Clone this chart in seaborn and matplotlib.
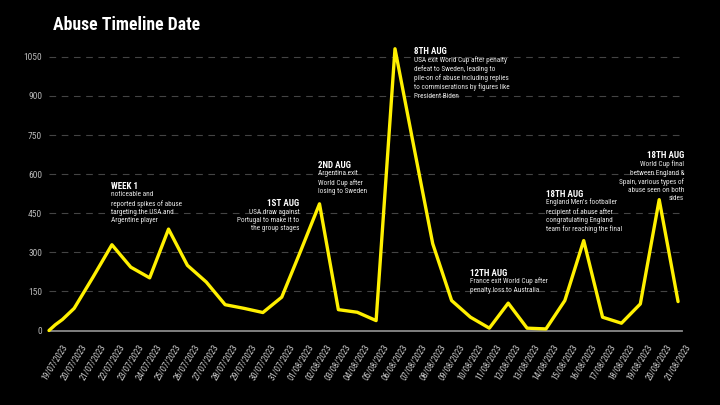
import matplotlib
matplotlib.use("Agg")
import matplotlib.pyplot as plt
import seaborn as sns
import pandas as pd
import numpy as np

# ---- data ----
timestamps = [
    "2023-07-18 16:00", "2023-07-19 00:00", "2023-07-19 09:00", "2023-07-20 00:00", "2023-07-21 00:00",
    "2023-07-22 00:00", "2023-07-23 00:00", "2023-07-24 00:00", "2023-07-25 00:00", "2023-07-26 00:00",
    "2023-07-27 00:00", "2023-07-28 00:00", "2023-07-29 00:00", "2023-07-30 00:00", "2023-07-31 00:00",
    "2023-08-01 00:00", "2023-08-02 00:00", "2023-08-03 00:00", "2023-08-04 00:00", "2023-08-05 00:00",
    "2023-08-06 00:00", "2023-08-07 00:00", "2023-08-08 00:00", "2023-08-09 00:00", "2023-08-10 00:00",
    "2023-08-11 00:00", "2023-08-12 00:00", "2023-08-13 00:00", "2023-08-14 00:00", "2023-08-15 00:00",
    "2023-08-16 00:00", "2023-08-17 00:00", "2023-08-18 00:00", "2023-08-19 00:00", "2023-08-20 00:00",
    "2023-08-21 00:00",
]
abuse_counts = [
    0, 22, 42, 85, 205,
    329, 243, 202, 389, 250,
    186, 99, 85, 69, 128,
    305, 486, 80, 70, 38,
    1081, 705, 333, 115, 51,
    9, 105, 9, 6, 115,
    345, 51, 28, 102, 502,
    111,
]
tick_dates = pd.date_range("2023-07-19", "2023-08-21", freq="D")
tick_labels = [d.strftime("%d/%m/%Y") for d in tick_dates]
y_ticks = [0, 150, 300, 450, 600, 750, 900, 1050]

title = "Abuse Timeline Date"
annotations = [
    # header, body, x_px, header_y_px, body_first_line_y_px, align
    ("WEEK 1", "noticeable and\nreported spikes of abuse\ntargeting the USA and\nArgentine player", 111, 186.7, 195.3, "left"),
    ("1ST AUG", "USA draw against\nPortugal to make it to\nthe group stages", 299.5, 204, 212.7, "right"),
    ("2ND AUG", "Argentina exit\nWorld Cup after\nlosing to Sweden", 318, 165.7, 174.3, "left"),
    ("8TH AUG", "USA exit World Cup after penalty\ndefeat to Sweden, leading to\npile-on of abuse including replies\nto commiserations by figures like\nPresident Biden", 414, 51, 60, "left"),
    ("12TH AUG", "France exit World Cup after\npenalty loss to Australia", 470, 273.3, 281.7, "left"),
    ("18TH AUG", "England Men's footballer\nrecipient of abuse after\ncongratulating England\nteam for reaching the final", 545.7, 194.3, 202.7, "left"),
    ("18TH AUG", "World Cup final\nbetween England &\nSpain, various types of\nabuse seen on both\nsides", 684, 155.7, 164.7, "right"),
]

df = pd.DataFrame({"date": pd.to_datetime(timestamps, format="%Y-%m-%d %H:%M"),
                   "value": abuse_counts})

sns.set_theme(style="dark")
FONT = ["Roboto Condensed", "Liberation Sans Narrow", "Roboto", "DejaVu Sans"]
plt.rcParams["font.family"] = FONT

W, H = 720, 405
fig = plt.figure(figsize=(W / 100, H / 100), dpi=100, facecolor="black")
ax = fig.add_axes([49 / W, 1 - 330.5 / H, (682 - 49) / W, (330.5 - 43.8) / H])
ax.set_facecolor("black")

sns.lineplot(data=df, x="date", y="value", ax=ax, color="#fff000",
             linewidth=2.4, clip_on=False, zorder=5)

ax.set_xlim(pd.Timestamp("2023-07-18 16:00"), pd.Timestamp("2023-08-21 05:00"))
ax.set_ylim(0, 1100)

ax.set_yticks(y_ticks)
ax.set_yticklabels([str(v) for v in y_ticks])
ax.set_xticks(tick_dates)
ax.set_xticklabels(tick_labels, rotation=58, ha="center", va="top")

ax.tick_params(axis="y", length=0, pad=5, labelsize=6.8, labelcolor="#b8b8b8")
ax.tick_params(axis="x", length=0, pad=9, labelsize=6.2, labelcolor="#cfcfcf")

for v in y_ticks[1:]:
    ax.axhline(v, color="#444444", linewidth=0.8, linestyle=(0, (6, 5)), zorder=1)
ax.grid(False)
for s in ["top", "right", "left"]:
    ax.spines[s].set_visible(False)
ax.spines["bottom"].set_color("#8a8a8a")
ax.spines["bottom"].set_linewidth(1.3)
ax.set_xlabel("")
ax.set_ylabel("")

fig.text(53 / W, 1 - 24.5 / H, title, color="white", fontsize=12.8,
         fontweight="bold", va="center", ha="left")

for header, body, xp, hy, by, align in annotations:
    fig.text(xp / W, 1 - hy / H, header, color="white", fontsize=6.5,
             fontweight="bold", ha=align, va="center")
    fig.text(xp / W, 1 - (by - 4.0) / H, body, color="#e6e6e6", fontsize=5.2,
             ha=align, va="top", multialignment=align, linespacing=1.25)

fig.savefig("out.png", dpi=100, facecolor="black")
